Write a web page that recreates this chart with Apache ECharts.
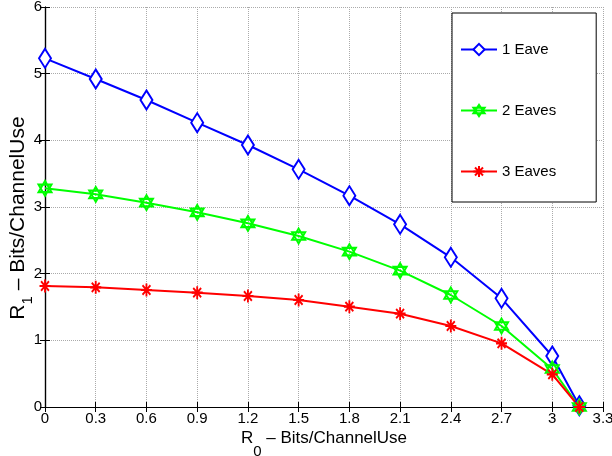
<!DOCTYPE html>
<html>
<head>
<meta charset="UTF-8"/>
<script src="https://cdn.jsdelivr.net/npm/echarts@6/dist/echarts.min.js"></script>
<style>
  html, body { margin: 0; padding: 0; background: #fff; }
  #main { width: 612px; height: 456px; }
</style>
</head>
<body>
<div id="main"></div>
<script type="text/javascript">
    // R0 values (x axis)
    var r0 = [0, 0.3, 0.6, 0.9, 1.2, 1.5, 1.8, 2.1, 2.4, 2.7, 3.0, 3.16];
    // R1 values for each case
    var eave1 = [5.23, 4.92, 4.605, 4.265, 3.93, 3.565, 3.17, 2.74, 2.245, 1.63, 0.765, 0.02];
    var eave2 = [3.28, 3.19, 3.065, 2.92, 2.755, 2.565, 2.33, 2.045, 1.68, 1.215, 0.57, 0.0];
    var eave3 = [1.815, 1.795, 1.755, 1.715, 1.665, 1.605, 1.505, 1.4, 1.215, 0.955, 0.49, 0.0];
    var names = ['1 Eave', '2 Eaves', '3 Eaves'];

    var font = "'Liberation Sans', Arial, sans-serif";

    var hexagram = 'path://M0,-10 L8.66,5 L-8.66,5 Z M0,10 L8.66,-5 L-8.66,-5 Z';
    var asterisk = 'path://M0,-6 L0,6 M-6,0 L6,0 M-4.3,-4.3 L4.3,4.3 M-4.3,4.3 L4.3,-4.3';

    function pairs(ys) {
        var out = [];
        for (var i = 0; i < r0.length; i++) out.push([r0[i], ys[i]]);
        return out;
    }

    var myChart = echarts.init(document.getElementById('main'));
    // top / right axes only close the box (matlab style)
    var frameAxis = {
        axisLine: {show: true, lineStyle: {color: '#000', width: 1.2}},
        axisTick: {show: true, inside: true, length: 5, lineStyle: {color: '#000'}},
        axisLabel: {show: false},
        splitLine: {show: false}
    };
    var option = {
        animation: false,
        backgroundColor: '#fff',
        grid: {left: 45, right: 9, top: 7, bottom: 49, containLabel: false, outerBoundsMode: 'none'},
        legend: {
            orient: 'vertical',
            left: 452,
            top: 13,
            padding: [29, 40, 23, 8],
            itemGap: 46,
            itemWidth: 36,
            itemHeight: 14,
            borderColor: '#000',
            borderWidth: 1,
            backgroundColor: '#fff',
            textStyle: {fontFamily: font, fontSize: 15, color: '#000'},
            data: names
        },
        xAxis: [{
            type: 'value',
            min: 0, max: 3.3, interval: 0.3,
            axisLine: {show: true, onZero: false, lineStyle: {color: '#000', width: 1.2}},
            axisTick: {show: true, inside: true, length: 5, lineStyle: {color: '#000'}},
            axisLabel: {
                margin: 4, color: '#000', fontFamily: font, fontSize: 15,
                formatter: function (v) { return +v.toFixed(1) + ''; }
            },
            splitLine: {show: true, lineStyle: {color: '#aaa', type: 'dotted', width: 1}},
            name: '{m|R}{s|0}{m| – Bits/ChannelUse}',
            nameLocation: 'middle',
            nameGap: 10,
            nameMoveOverlap: false,
            nameTextStyle: {
                rich: {
                    m: {fontFamily: font, fontSize: 17, color: '#000', lineHeight: 42},
                    s: {fontFamily: font, fontSize: 15, color: '#000', lineHeight: 16, verticalAlign: 'bottom'}
                }
            }
        }, Object.assign({type: 'value', position: 'top', min: 0, max: 3.3, interval: 0.3}, frameAxis)],
        yAxis: [{
            type: 'value',
            min: 0, max: 6, interval: 1,
            axisLine: {show: true, onZero: false, lineStyle: {color: '#000', width: 1.2}},
            axisTick: {show: true, inside: true, length: 5, lineStyle: {color: '#000'}},
            axisLabel: {margin: 3, color: '#000', fontFamily: font, fontSize: 15},
            splitLine: {show: true, lineStyle: {color: '#aaa', type: 'dotted', width: 1}},
            name: '{m|R}{s|1}{m| – Bits/ChannelUse}',
            nameLocation: 'middle',
            nameGap: 10,
            nameMoveOverlap: false,
            nameTextStyle: {
                padding: [0, 22, 0, 0],
                rich: {
                    m: {fontFamily: font, fontSize: 21, color: '#000', lineHeight: 34},
                    s: {fontFamily: font, fontSize: 15, color: '#000', lineHeight: 14, verticalAlign: 'bottom'}
                }
            }
        }, Object.assign({type: 'value', position: 'right', min: 0, max: 6, interval: 1}, frameAxis)],
        series: [
            {
                name: names[0], type: 'line', data: pairs(eave1),
                symbol: 'emptyDiamond', symbolSize: [12, 19],
                lineStyle: {color: '#0000ff', width: 2},
                itemStyle: {color: '#0000ff', borderColor: '#0000ff', borderWidth: 2}
            },
            {
                name: names[1], type: 'line', data: pairs(eave2),
                symbol: hexagram, symbolSize: [13, 15],
                lineStyle: {color: '#00ff00', width: 2},
                itemStyle: {color: 'rgba(0,0,0,0)', borderColor: '#00ff00', borderWidth: 2}
            },
            {
                name: names[2], type: 'line', data: pairs(eave3),
                symbol: asterisk, symbolSize: [11, 13],
                lineStyle: {color: '#ff0000', width: 2},
                itemStyle: {color: 'rgba(0,0,0,0)', borderColor: '#ff0000', borderWidth: 2}
            }
        ]
    };
    myChart.setOption(option);
</script>
</body>
</html>
